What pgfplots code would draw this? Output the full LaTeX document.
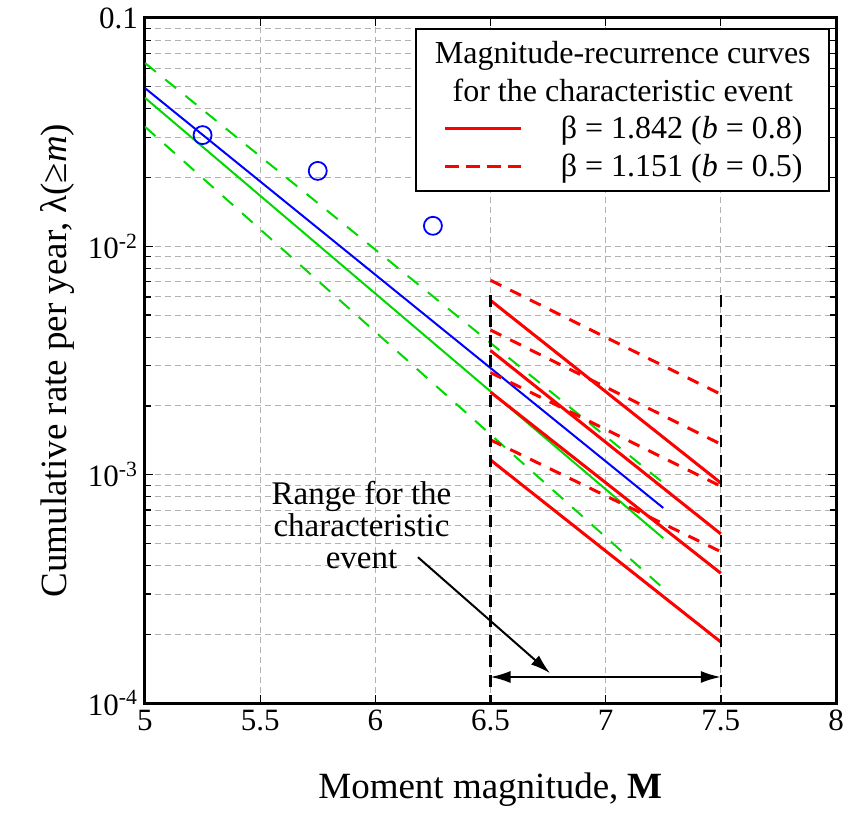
\documentclass[border=0pt]{standalone}
\usepackage{fontspec}
\setmainfont{Liberation Serif}
\usepackage{pgfplots}
\pgfplotsset{compat=1.18}
\usetikzlibrary{arrows.meta}
\begin{document}
\begin{tikzpicture}
\begin{semilogyaxis}[
  name=ax,
  scale only axis, width=345.5pt, height=342.5pt,
  xmin=5, xmax=8, ymin=1e-4, ymax=0.1,
  xtick={5,5.5,6,6.5,7,7.5,8},
  xticklabels={5,5.5,6,6.5,7,7.5,8},
  ytick={1e-4,1e-3,1e-2,1e-1},
  yticklabels={10\textsuperscript{-4},10\textsuperscript{-3},10\textsuperscript{-2},0.1},
  tick align=inside, major tick length=4pt, minor tick length=3pt,
  tick style={black, line width=0.6pt},
  xmajorgrids, ymajorgrids, yminorgrids,
  major grid style={gray!60, dash pattern=on 3pt off 2pt, line width=0.5pt},
  minor grid style={gray!60, dash pattern=on 3pt off 2pt, line width=0.5pt},
  axis line style={line width=1.5pt},
  ticklabel style={font=\fontsize{15.5}{18}\selectfont},
  label style={font=\fontsize{18.5}{22}\selectfont},
  xlabel={Moment magnitude, \textbf{M}},
  ylabel={Cumulative rate per year, λ(≥\textit{m})},
  xlabel style={yshift=-14pt},
  legend style={at={(0.991,0.985)}, anchor=north east, draw=black, line width=1pt,
    fill=white, font=\fontsize{16}{19}\selectfont, cells={anchor=west},
    inner xsep=8pt, inner ysep=4pt, row sep=2pt},
  legend image code/.code={\path (-6pt,0pt) (55pt,0pt); \draw[#1] (0pt,0pt) -- (38pt,0pt);},
]
% green bands
\addplot[forget plot, green!85!black, line width=1pt, dash pattern=on 7pt off 6pt] coordinates {(5,0.0635) (7.25,9.2e-4)};
\addplot[forget plot, green!85!black, line width=1pt, dash pattern=on 7pt off 6pt] coordinates {(5,0.0334) (7.25,3.18e-4)};
\addplot[forget plot, green!85!black, line width=1pt] coordinates {(5,0.0447) (7.25,5.27e-4)};
% blue fit
\addplot[forget plot, blue, line width=1pt] coordinates {(5,0.0493) (7.25,7.15e-4)};
\addplot[forget plot, only marks, blue, mark=o, mark size=4.5pt, line width=0.9pt] coordinates {(5.25,0.0307) (5.75,0.0214) (6.25,0.0123)};
% red solid
\addplot[forget plot, red, line width=1.5pt] coordinates {(6.5,5.8e-3) (7.5,9.2e-4)};
\addplot[forget plot, red, line width=1.5pt] coordinates {(6.5,3.5e-3) (7.5,5.5e-4)};
\addplot[forget plot, red, line width=1.5pt] coordinates {(6.5,2.3e-3) (7.5,3.7e-4)};
\addplot[forget plot, red, line width=1.5pt] coordinates {(6.5,1.16e-3) (7.5,1.85e-4)};
% red dashed
\addplot[forget plot, red, line width=1.5pt, dash pattern=on 6pt off 5pt] coordinates {(6.5,7.1e-3) (7.5,2.25e-3)};
\addplot[forget plot, red, line width=1.5pt, dash pattern=on 6pt off 5pt] coordinates {(6.5,4.3e-3) (7.5,1.36e-3)};
\addplot[forget plot, red, line width=1.5pt, dash pattern=on 6pt off 5pt] coordinates {(6.5,2.8e-3) (7.5,8.9e-4)};
\addplot[forget plot, red, line width=1.5pt, dash pattern=on 6pt off 5pt] coordinates {(6.5,1.42e-3) (7.5,4.6e-4)};
% range markers
\addplot[forget plot, black, line width=1.2pt, dash pattern=on 6pt off 4pt] coordinates {(6.5,6.1e-3) (6.5,1e-4)};
\addplot[forget plot, black, line width=1.2pt, dash pattern=on 6pt off 4pt] coordinates {(7.5,6.1e-3) (7.5,1e-4)};
\addplot[forget plot, black, line width=1pt, {Latex[length=10pt,width=6pt]}-{Latex[length=10pt,width=6pt]}] coordinates {(6.5,1.30e-4) (7.5,1.30e-4)};
\addplot[forget plot, black, line width=1pt, -{Latex[length=10pt,width=6pt]}] coordinates {(6.185,4.35e-4) (6.759,1.35e-4)};
\node[align=center, font=\fontsize{16.5}{16}\selectfont] at (axis cs:5.94,6e-4) {Range for the\\characteristic\\event};
% legend
\addlegendimage{empty legend}
\addlegendentry{\hspace*{-62pt}\makebox[186pt][c]{Magnitude-recurrence curves}}
\addlegendimage{empty legend}
\addlegendentry{\hspace*{-62pt}\makebox[186pt][c]{for the characteristic event}}
\addlegendimage{red, line width=1.5pt}
\addlegendentry{β = 1.842 (\textit{b} = 0.8)}
\addlegendimage{red, line width=1.5pt, dash pattern=on 7pt off 3.5pt}
\addlegendentry{β = 1.151 (\textit{b} = 0.5)}
\end{semilogyaxis}
\path (ax.north east) ++(9.5pt,9pt);
\path (ax.south west) ++(-72.5pt,-40pt);
\end{tikzpicture}
\end{document}
